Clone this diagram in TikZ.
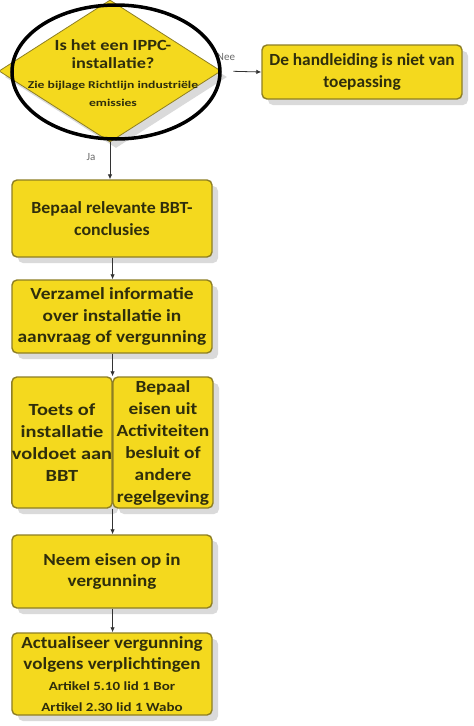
\documentclass[tikz,border=0pt]{standalone}
\usepackage{fontspec}
\setmainfont{Carlito}
\usetikzlibrary{shapes.geometric,arrows.meta,shadows,calc}
\definecolor{boxfill}{HTML}{F4D91E}
\definecolor{boxline}{HTML}{8E7F24}
\definecolor{boxtext}{HTML}{2F2E0C}
\definecolor{shade}{HTML}{DADADA}
\definecolor{lbl}{HTML}{6A6A6A}
\newcommand{\ff}[3]{\bfseries\fontsize{#1}{#2}\selectfont\addfontfeatures{FakeStretch=#3}}
\begin{document}
\begin{tikzpicture}[x=1pt,y=-1pt,
  sh/.style={drop shadow={shadow xshift=6pt,shadow yshift=-6pt,fill=shade,opacity=1}},
  box/.style={draw=boxline,line width=1.4pt,fill=boxfill,rounded corners=5pt,
    text=boxtext,align=center,inner sep=0pt,sh},
  arr/.style={-{Latex[length=5pt,width=4.5pt]},line width=0.8pt,draw=black!80},
  lab/.style={text=lbl,font=\fontsize{11}{13}\selectfont,inner sep=0pt}]
\useasboundingbox (0,0) rectangle (474,726);
\clip (0,0) rectangle (474,726);
\fill[white] (0,0) rectangle (474,726);

% decision diamond
\node[diamond,draw=boxline,line width=0.8pt,fill=boxfill,minimum width=222pt,minimum height=142pt,
  inner sep=0pt,sh] (dia) at (110,71) {};
\node[text=boxtext,align=center,inner sep=0pt,font=\ff{15.5}{18}{1.18}] (diat) at (113,73)
  {Is het een IPPC-\\installatie?\\[2pt]
   {\ff{10.5}{18}{1.3}Zie bijlage Richtlijn industriële}\\
   {\ff{10.5}{18}{1.3}emissies}};
\node[lab] (nee) at (226,57) {Nee};
\node[lab] (ja) at (91,157) {Ja};

% boxes
\node[box,minimum width=200pt,minimum height=54pt,font=\ff{17}{21.5}{1.02}] (nvt) at (362,72)
  {De handleiding is niet van\\toepassing};
\node[box,minimum width=200pt,minimum height=77pt,font=\ff{17}{21.5}{1.05}] (b1) at (112,218.5)
  {Bepaal relevante BBT-\\conclusies};
\node[box,minimum width=200pt,minimum height=73pt,font=\ff{17}{21.5}{1.14}] (b2) at (112,316.5)
  {Verzamel informatie\\over installatie in\\aanvraag of vergunning};
\node[box,minimum width=100pt,minimum height=131pt,font=\ff{17}{22}{1.2}] (b3l) at (62,442.5)
  {Toets of\\installatie\\voldoet aan\\BBT};
\node[box,minimum width=100pt,minimum height=131pt,font=\ff{17}{22}{1.14}] (b3r) at (163,442.5)
  {Bepaal\\eisen uit\\Activiteiten\\besluit of\\andere\\regelgeving};
\node[box,minimum width=200pt,minimum height=73pt,font=\ff{17}{21.5}{1.12}] (b4) at (112,571.5)
  {Neem eisen op in\\vergunning};
\node[box,minimum width=200pt,minimum height=82pt,font=\ff{17}{21}{1.12}] (b5) at (112,674)
  {Actualiseer vergunning\\volgens verplichtingen\\
   {\ff{12.5}{18.5}{1.2}Artikel 5.10 lid 1 Bor}\\
   {\ff{12.5}{18.5}{1.2}Artikel 2.30 lid 1 Wabo}};

\coordinate (j3t) at ($(b3l.north east)!0.5!(b3r.north west)$);
\coordinate (j3b) at ($(b3l.south east)!0.5!(b3r.south west)$);

% connectors
\draw[arr,shorten <=12pt] (dia.east) -- (nvt.west);
\draw[arr] (dia.south) -- (b1.north -| dia.south);
\draw[arr] (b1.south -| j3t) -- (b2.north -| j3t);
\draw[arr] (b2.south -| j3t) -- (j3t);
\draw[arr] (j3b) -- (b4.north -| j3b);
\draw[arr] (b4.south -| j3b) -- (b5.north -| j3b);

% highlight ellipse
\draw[black,line width=3.5pt] (116,72) ellipse [x radius=104pt,y radius=67pt];
\end{tikzpicture}
\end{document}
